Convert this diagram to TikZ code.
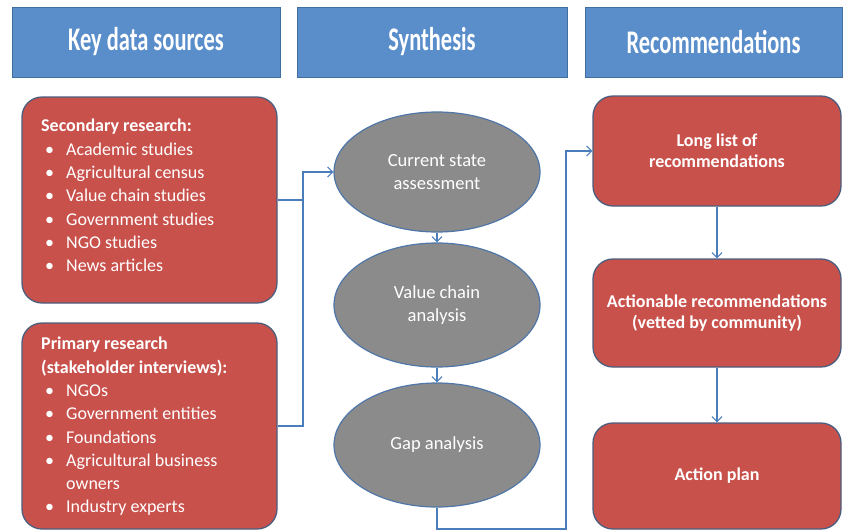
\documentclass[tikz,border=0pt]{standalone}
\usepackage{fontspec}
\setmainfont{Carlito}
\newfontfamily\headfont{Carlito}[FakeStretch=0.68]
\usetikzlibrary{shapes.geometric,arrows.meta}

\definecolor{hdrblue}{HTML}{5A8ECB}
\definecolor{hdrline}{HTML}{41709F}
\definecolor{boxred}{HTML}{C9514C}
\definecolor{boxline}{HTML}{4B5E7E}
\definecolor{ovalgrey}{HTML}{8B8B8B}
\definecolor{ovalline}{HTML}{4F76A8}
\definecolor{linkblue}{HTML}{4A7EBB}

% bullet item and continuation line for the source lists
\newcommand{\bul}{\hspace*{4pt}\makebox[21pt][l]{\textbullet}}
\newcommand{\cont}{\hspace*{25pt}}

\begin{document}
\begin{tikzpicture}[x=1pt,y=-1pt,
  hdr/.style={draw=hdrline, fill=hdrblue, line width=1pt, inner sep=0,
    text=white, font=\headfont\bfseries\fontsize{33}{36}\selectfont},
  redbox/.style={draw=boxline, fill=boxred, line width=1.3pt,
    rounded corners=20pt, inner sep=0},
  rtext/.style={redbox, align=center, text=white,
    font=\bfseries\fontsize{18}{21}\selectfont},
  listtext/.style={anchor=north west, align=left, inner sep=0, text=white,
    font=\fontsize{18}{23.3}\selectfont},
  oval/.style={ellipse, draw=ovalline, fill=ovalgrey, line width=1.2pt,
    inner sep=0, text=white, align=center,
    font=\fontsize{18.5}{23}\selectfont},
  link/.style={draw=linkblue, line width=1.1pt},
  arr/.style={link, -{Straight Barb[length=5pt,width=10pt,line width=1.1pt]}}]

\useasboundingbox[fill=white] (0,0) rectangle (845,531);

% column headers
\node[hdr, minimum width=268pt, minimum height=70pt] (h1) at (146,42) {Key data sources};
\node[hdr, minimum width=270pt, minimum height=70pt] (h2) at (432,42) {Synthesis};
\node[hdr, minimum width=257pt, minimum height=70pt] (h3) at (713.5,42) {Recommendations};

% data sources
\node[redbox, minimum width=255pt, minimum height=206pt] (src1) at (149.5,200) {};
\node[listtext] (src1t) at (41,119) {\textbf{Secondary research:}\\
  \bul Academic studies\\
  \bul Agricultural census\\
  \bul Value chain studies\\
  \bul Government studies\\
  \bul NGO studies\\
  \bul News articles};

\node[redbox, minimum width=255pt, minimum height=206pt] (src2) at (149.5,426) {};
\node[listtext] (src2t) at (41,337) {\textbf{Primary research}\\
  \textbf{(stakeholder interviews):}\\
  \bul NGOs\\
  \bul Government entities\\
  \bul Foundations\\
  \bul Agricultural business\\
  \cont owners\\
  \bul Industry experts};

% synthesis steps
\node[oval, minimum width=206pt, minimum height=120pt] (s1) at (437,172) {Current state\\assessment};
\node[oval, minimum width=206pt, minimum height=124pt] (s2) at (437,305) {Value chain\\analysis};
\node[oval, minimum width=206pt, minimum height=124pt] (s3) at (437,445) {Gap analysis};

% recommendations
\node[rtext, minimum width=248pt, minimum height=110pt] (r1) at (717,151) {Long list of\\recommendations};
\node[rtext, minimum width=248pt, minimum height=108pt] (r2) at (717,313) {Actionable recommendations\\(vetted by community)};
\node[rtext, minimum width=248pt, minimum height=106pt] (r3) at (717,476) {Action plan};

% connectors
\coordinate (join) at (303,172);
\draw[arr] (src1.east) -| (join) -- (s1.west);
\draw[link] (src2.east) -| (join);
\draw[arr] (s1.south) -- (s2.north);
\draw[arr] (s2.south) -- (s3.north);

\coordinate (low) at (437,529);
\coordinate (turn) at (566,529);
\draw[arr] (s3.south) -- (low) -- (turn) |- (r1.west);

\draw[arr] (r1.south) -- (r2.north);
\draw[arr] (r2.south) -- (r3.north);
\end{tikzpicture}
\end{document}
